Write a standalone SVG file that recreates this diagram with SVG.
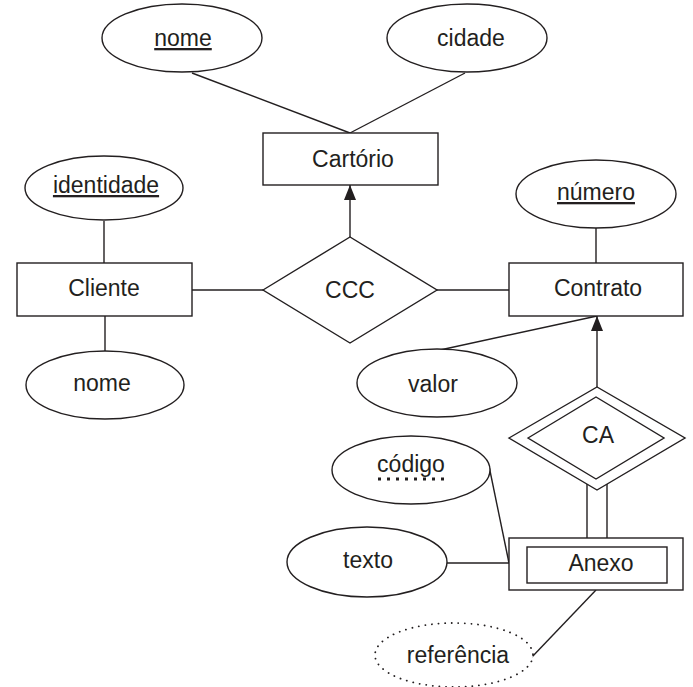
<svg xmlns="http://www.w3.org/2000/svg" width="693" height="687" viewBox="0 0 693 687">
<style>
.s{fill:none;stroke:#231f20;stroke-width:1.4}
.b{fill:#fff;stroke:#231f20;stroke-width:1.4}
.t{font-family:"Liberation Sans",Arial,sans-serif;font-size:23px;fill:#231f20;text-anchor:middle}
.u{text-decoration:underline}
</style>
<defs>
<marker id="arr" viewBox="0 0 15 12" refX="15" refY="6" markerWidth="15" markerHeight="12" markerUnits="userSpaceOnUse" orient="auto">
<path d="M0,0 L15,6 L0,12 Z" fill="#231f20"/>
</marker>
</defs>
<g id="connectors">
<line class="s" x1="192" y1="73" x2="350" y2="133"/>
<line class="s" x1="465" y1="73" x2="350" y2="133"/>
<line class="s" x1="350" y1="237" x2="350" y2="185" marker-end="url(#arr)"/>
<line class="s" x1="104" y1="221" x2="104" y2="263"/>
<line class="s" x1="105" y1="316" x2="105" y2="351"/>
<line class="s" x1="192" y1="290" x2="263" y2="290"/>
<line class="s" x1="437" y1="290" x2="509" y2="290"/>
<line class="s" x1="596" y1="228" x2="596" y2="263"/>
<line class="s" x1="440" y1="350" x2="597" y2="316"/>
<line class="s" x1="597" y1="387" x2="597" y2="316" marker-end="url(#arr)"/>
<line class="s" x1="587" y1="484" x2="587" y2="538"/>
<line class="s" x1="607" y1="484" x2="607" y2="538"/>
<line class="s" x1="489" y1="466" x2="509" y2="563"/>
<line class="s" x1="447" y1="563" x2="509" y2="563"/>
<line class="s" x1="596" y1="590" x2="531" y2="658"/>
</g>
<g id="attr-nome-cartorio">
<ellipse class="b" cx="182" cy="38" rx="80" ry="34"/>
<text class="t u" x="183" y="46">nome</text>
</g>
<g id="attr-cidade">
<ellipse class="b" cx="467" cy="38" rx="80" ry="34"/>
<text class="t" x="471" y="46">cidade</text>
</g>
<g id="cartorio">
<rect class="b" x="263" y="133" width="175" height="52"/>
<text class="t" x="353" y="167">Cartório</text>
</g>
<g id="attr-identidade">
<ellipse class="b" cx="104" cy="188" rx="79" ry="32"/>
<text class="t u" x="106" y="193">identidade</text>
</g>
<g id="cliente">
<rect class="b" x="17" y="263" width="175" height="53"/>
<text class="t" x="104" y="296">Cliente</text>
</g>
<g id="attr-nome-cliente">
<ellipse class="b" cx="105" cy="385" rx="79" ry="34"/>
<text class="t" x="102" y="391">nome</text>
</g>
<g id="ccc">
<polygon class="b" points="263,290 350,237 437,290 350,343"/>
<text class="t" x="350" y="298">CCC</text>
</g>
<g id="attr-numero">
<ellipse class="b" cx="596" cy="194" rx="80" ry="34"/>
<text class="t u" x="596" y="200">número</text>
</g>
<g id="contrato">
<rect class="b" x="509" y="263" width="174" height="53"/>
<text class="t" x="598" y="296">Contrato</text>
</g>
<g id="attr-valor">
<ellipse class="b" cx="437" cy="383" rx="80" ry="34"/>
<text class="t" x="433" y="392">valor</text>
</g>
<g id="ca">
<polygon class="b" points="509,438 597,387 685,438 597,490"/>
<polygon class="s" points="528,438 596,397 664,438 596,479"/>
<text class="t" x="598" y="443">CA</text>
</g>
<g id="attr-codigo">
<ellipse class="b" cx="411" cy="470" rx="79" ry="34"/>
<text class="t" x="411" y="472">código</text>
<line x1="378" y1="479" x2="447" y2="479" stroke="#231f20" stroke-width="3" stroke-dasharray="3 6"/>
</g>
<g id="attr-texto">
<ellipse class="b" cx="367" cy="562" rx="80" ry="35"/>
<text class="t" x="368" y="568">texto</text>
</g>
<g id="anexo">
<rect class="b" x="509" y="538" width="174" height="52"/>
<rect class="s" x="527" y="547" width="140" height="36"/>
<text class="t" x="601" y="571">Anexo</text>
</g>
<g id="attr-referencia">
<ellipse cx="454" cy="655" rx="79" ry="32" fill="#fff" stroke="#231f20" stroke-width="1.8" stroke-dasharray="0.1 6.5" stroke-linecap="round"/>
<text class="t" x="458" y="663">referência</text>
</g>
</svg>
